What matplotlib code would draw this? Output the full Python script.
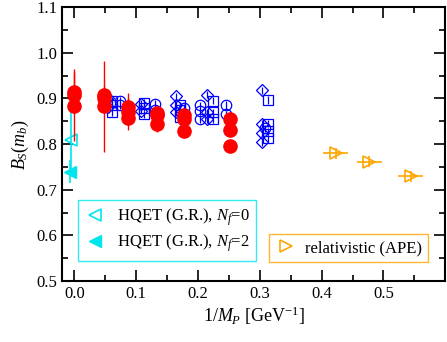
import matplotlib
matplotlib.use("Agg")
import matplotlib.pyplot as plt
from matplotlib.ticker import MultipleLocator
from matplotlib.lines import Line2D

plt.rcParams['font.family'] = ['Liberation Serif', 'DejaVu Serif']
plt.rcParams['mathtext.fontset'] = 'custom'
plt.rcParams['mathtext.rm'] = 'Liberation Serif'
plt.rcParams['mathtext.it'] = 'Liberation Serif:italic'

# red filled circles (quenched, this work)
red_x = [0.0, 0.0, 0.0, 0.047, 0.047, 0.047, 0.086, 0.086, 0.086,
         0.134, 0.134, 0.134, 0.178, 0.178, 0.178, 0.252, 0.252, 0.252]
red_y = [0.915, 0.908, 0.883, 0.907, 0.900, 0.883, 0.882, 0.871, 0.857,
         0.869, 0.863, 0.845, 0.864, 0.855, 0.829, 0.854, 0.831, 0.796]
red_err = [0.05, 0.02, 0.075, 0.02, 0.02, 0.10, 0.02, 0.04, 0.01,
           0.01, 0.01, 0.018, 0.01, 0.01, 0.008, 0.008, 0.008, 0.008]

# blue open symbols
sq_x = [0.060, 0.060, 0.060, 0.112, 0.112, 0.112, 0.170, 0.170, 0.170,
        0.224, 0.224, 0.224, 0.313, 0.313, 0.313, 0.313]
sq_y = [0.895, 0.885, 0.870, 0.890, 0.880, 0.865, 0.885, 0.875, 0.860,
        0.895, 0.870, 0.855, 0.897, 0.845, 0.828, 0.813]
dm_x = [0.055, 0.055, 0.108, 0.108, 0.164, 0.164, 0.164,
        0.214, 0.214, 0.214, 0.303, 0.303, 0.303, 0.303]
dm_y = [0.900, 0.882, 0.888, 0.873, 0.905, 0.885, 0.870,
        0.908, 0.870, 0.855, 0.918, 0.845, 0.825, 0.805]
ci_x = [0.073, 0.073, 0.130, 0.130, 0.178, 0.178, 0.203, 0.203, 0.203,
        0.245, 0.245, 0.308]
ci_y = [0.895, 0.885, 0.888, 0.875, 0.880, 0.865, 0.885, 0.872, 0.855,
        0.886, 0.865, 0.835]
blue_err = 0.008

# HQET (G.R.)
hq0_x, hq0_y, hq0_err = [-0.005], [0.810], [0.070]
hq2_x, hq2_y, hq2_err = [-0.008], [0.740], [0.025]

# relativistic (APE)
ape_x = [0.423, 0.477, 0.544]
ape_y = [0.780, 0.762, 0.730]
ape_xerr = [0.02, 0.02, 0.02]
ape_yerr = [0.012, 0.012, 0.012]

fig = plt.figure(figsize=(4.47, 3.42), dpi=100)
ax = fig.add_axes([0.139, 0.178, 0.857, 0.801])

cyan = '#00e5ee'
orange = '#ffa500'

for xs, ys, m in [(sq_x, sq_y, 's'), (dm_x, dm_y, 'D'), (ci_x, ci_y, 'o')]:
    ax.errorbar(xs, ys, yerr=blue_err, fmt=m, color='blue', mfc='none',
                mec='blue', ms=7.5 if m != 'D' else 6.5, mew=0.9, elinewidth=0.9)

ax.errorbar(red_x, red_y, yerr=red_err, fmt='o', color='red', ms=9.5,
            elinewidth=1.0, zorder=5)

ax.errorbar(hq0_x, hq0_y, yerr=hq0_err, fmt='<', color=cyan, mfc='none',
            mec=cyan, ms=8, mew=1.2, elinewidth=1.2)
ax.errorbar(hq2_x, hq2_y, yerr=hq2_err, fmt='<', color=cyan, ms=8,
            elinewidth=1.2)

ax.errorbar(ape_x, ape_y, xerr=ape_xerr, yerr=ape_yerr, fmt='>', color=orange,
            mfc='none', mec=orange, ms=8, mew=1.2, elinewidth=1.2)

ax.set_xlim(-0.02, 0.6)
ax.set_ylim(0.5, 1.1)
ax.xaxis.set_major_locator(MultipleLocator(0.1))
ax.xaxis.set_minor_locator(MultipleLocator(0.05))
ax.yaxis.set_major_locator(MultipleLocator(0.1))
ax.yaxis.set_minor_locator(MultipleLocator(0.05))
ax.xaxis.set_major_formatter(plt.FuncFormatter(lambda v, p: f"{v:.1f}" if v < 0.55 else ""))
ax.tick_params(which='both', direction='in', top=True, right=True, labelsize=12, width=1.2)
ax.tick_params(which='major', length=8)
ax.tick_params(which='minor', length=4)
for s in ax.spines.values():
    s.set_linewidth(1.5)

ax.set_xlabel(r'$\mathit{1/M_P}$ [GeV$^{-1}$]', fontsize=13, labelpad=2)
ax.set_ylabel(r'$B_S(m_b)$', fontsize=13, labelpad=4)

h0 = Line2D([], [], marker='<', ls='none', color=cyan, mfc='none', ms=8, mew=1.2)
h2 = Line2D([], [], marker='<', ls='none', color=cyan, ms=8)
leg1 = ax.legend([h0, h2], [r'HQET (G.R.), $N_f$=0', r'HQET (G.R.), $N_f$=2'],
                 loc='lower left', bbox_to_anchor=(0.042, 0.073), borderaxespad=0,
                 fancybox=False, edgecolor=cyan, fontsize=12, handletextpad=0.7,
                 handlelength=1.2, borderpad=0.4, labelspacing=0.3)
leg1.get_frame().set_linewidth(1.0)
ax.add_artist(leg1)

ha = Line2D([], [], marker='>', ls='none', color=orange, mfc='none', ms=8, mew=1.2)
leg2 = ax.legend([ha], ['relativistic (APE)'], loc='lower left',
                 bbox_to_anchor=(0.54, 0.07), borderaxespad=0, fancybox=False,
                 edgecolor=orange, fontsize=12, handletextpad=0.5, handlelength=1.3,
                 borderpad=0.35)
leg2.get_frame().set_linewidth(1.0)

fig.savefig('out.png', dpi=100)
